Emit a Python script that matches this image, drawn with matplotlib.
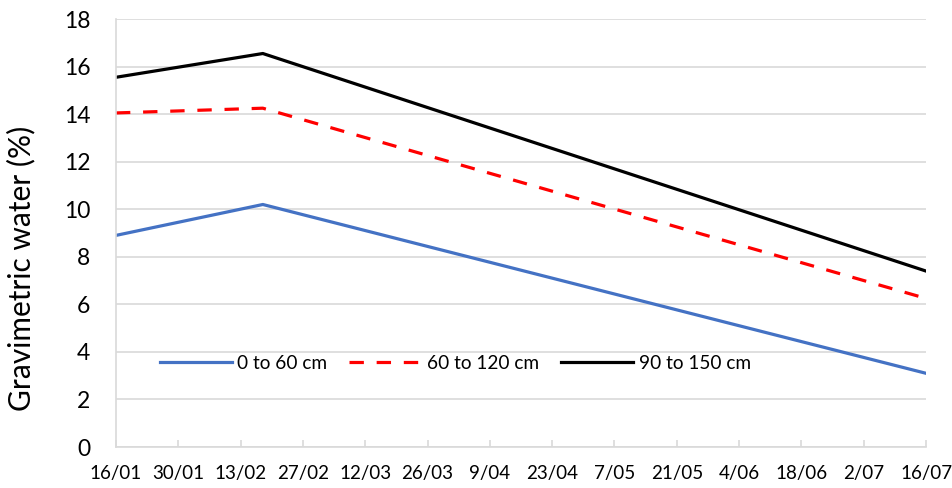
import datetime as dt

import matplotlib
matplotlib.use("Agg")
import matplotlib.pyplot as plt

# sampling dates (day, month) in 2020
dates = [dt.date(2020, 1, 16), dt.date(2020, 2, 18), dt.date(2020, 7, 16)]
depth_0_60 = [8.9, 10.2, 3.1]
depth_60_120 = [14.05, 14.25, 6.25]
depth_90_150 = [15.55, 16.55, 7.4]
series_labels = ["0 to 60 cm", "60 to 120 cm", "90 to 150 cm"]

plt.rcParams["font.family"] = ["Lato", "DejaVu Sans"]

fig = plt.figure(figsize=(9.52, 4.88), dpi=100)
ax = fig.add_axes([0.1218, 0.084, 0.8509, 0.877])

ax.plot(dates, depth_0_60, color="#4472C4", lw=2.3, label=series_labels[0])
ax.plot(dates, depth_60_120, color="#FF0000", lw=2.3, dashes=(4.5, 4.0),
        label=series_labels[1])
ax.plot(dates, depth_90_150, color="black", lw=2.3, label=series_labels[2])

ax.set_ylim(0, 18)
ax.set_yticks(range(0, 19, 2))
ax.set_xlim(dt.date(2020, 1, 16), dt.date(2020, 7, 16))
ticks = [dt.date(2020, 1, 16) + dt.timedelta(days=14 * i) for i in range(14)]
ax.set_xticks(ticks)
ax.set_xticklabels([f"{d.day}/{d.month:02d}" for d in ticks])

ax.grid(axis="y", color="#D9D9D9", lw=1.2)
ax.set_axisbelow(True)
for side in ("top", "right"):
    ax.spines[side].set_visible(False)
for side in ("left", "bottom"):
    ax.spines[side].set_color("#D9D9D9")
    ax.spines[side].set_linewidth(1.2)

ax.tick_params(axis="y", length=0, labelsize=16.5, pad=18.5)
ax.tick_params(axis="x", direction="in", length=5, color="#D9D9D9",
               width=1.2, labelsize=13.5, pad=13)
ax.set_ylabel("Gravimetric water (%)", fontsize=21.5)
ax.yaxis.set_label_coords(-0.1, 0.418)

ax.legend(loc="center", bbox_to_anchor=(0.419, 0.196), ncol=3, frameon=False,
          fontsize=13.7, handlelength=3.8, columnspacing=1.15,
          handletextpad=0.28)

fig.savefig("out.png", dpi=100)
